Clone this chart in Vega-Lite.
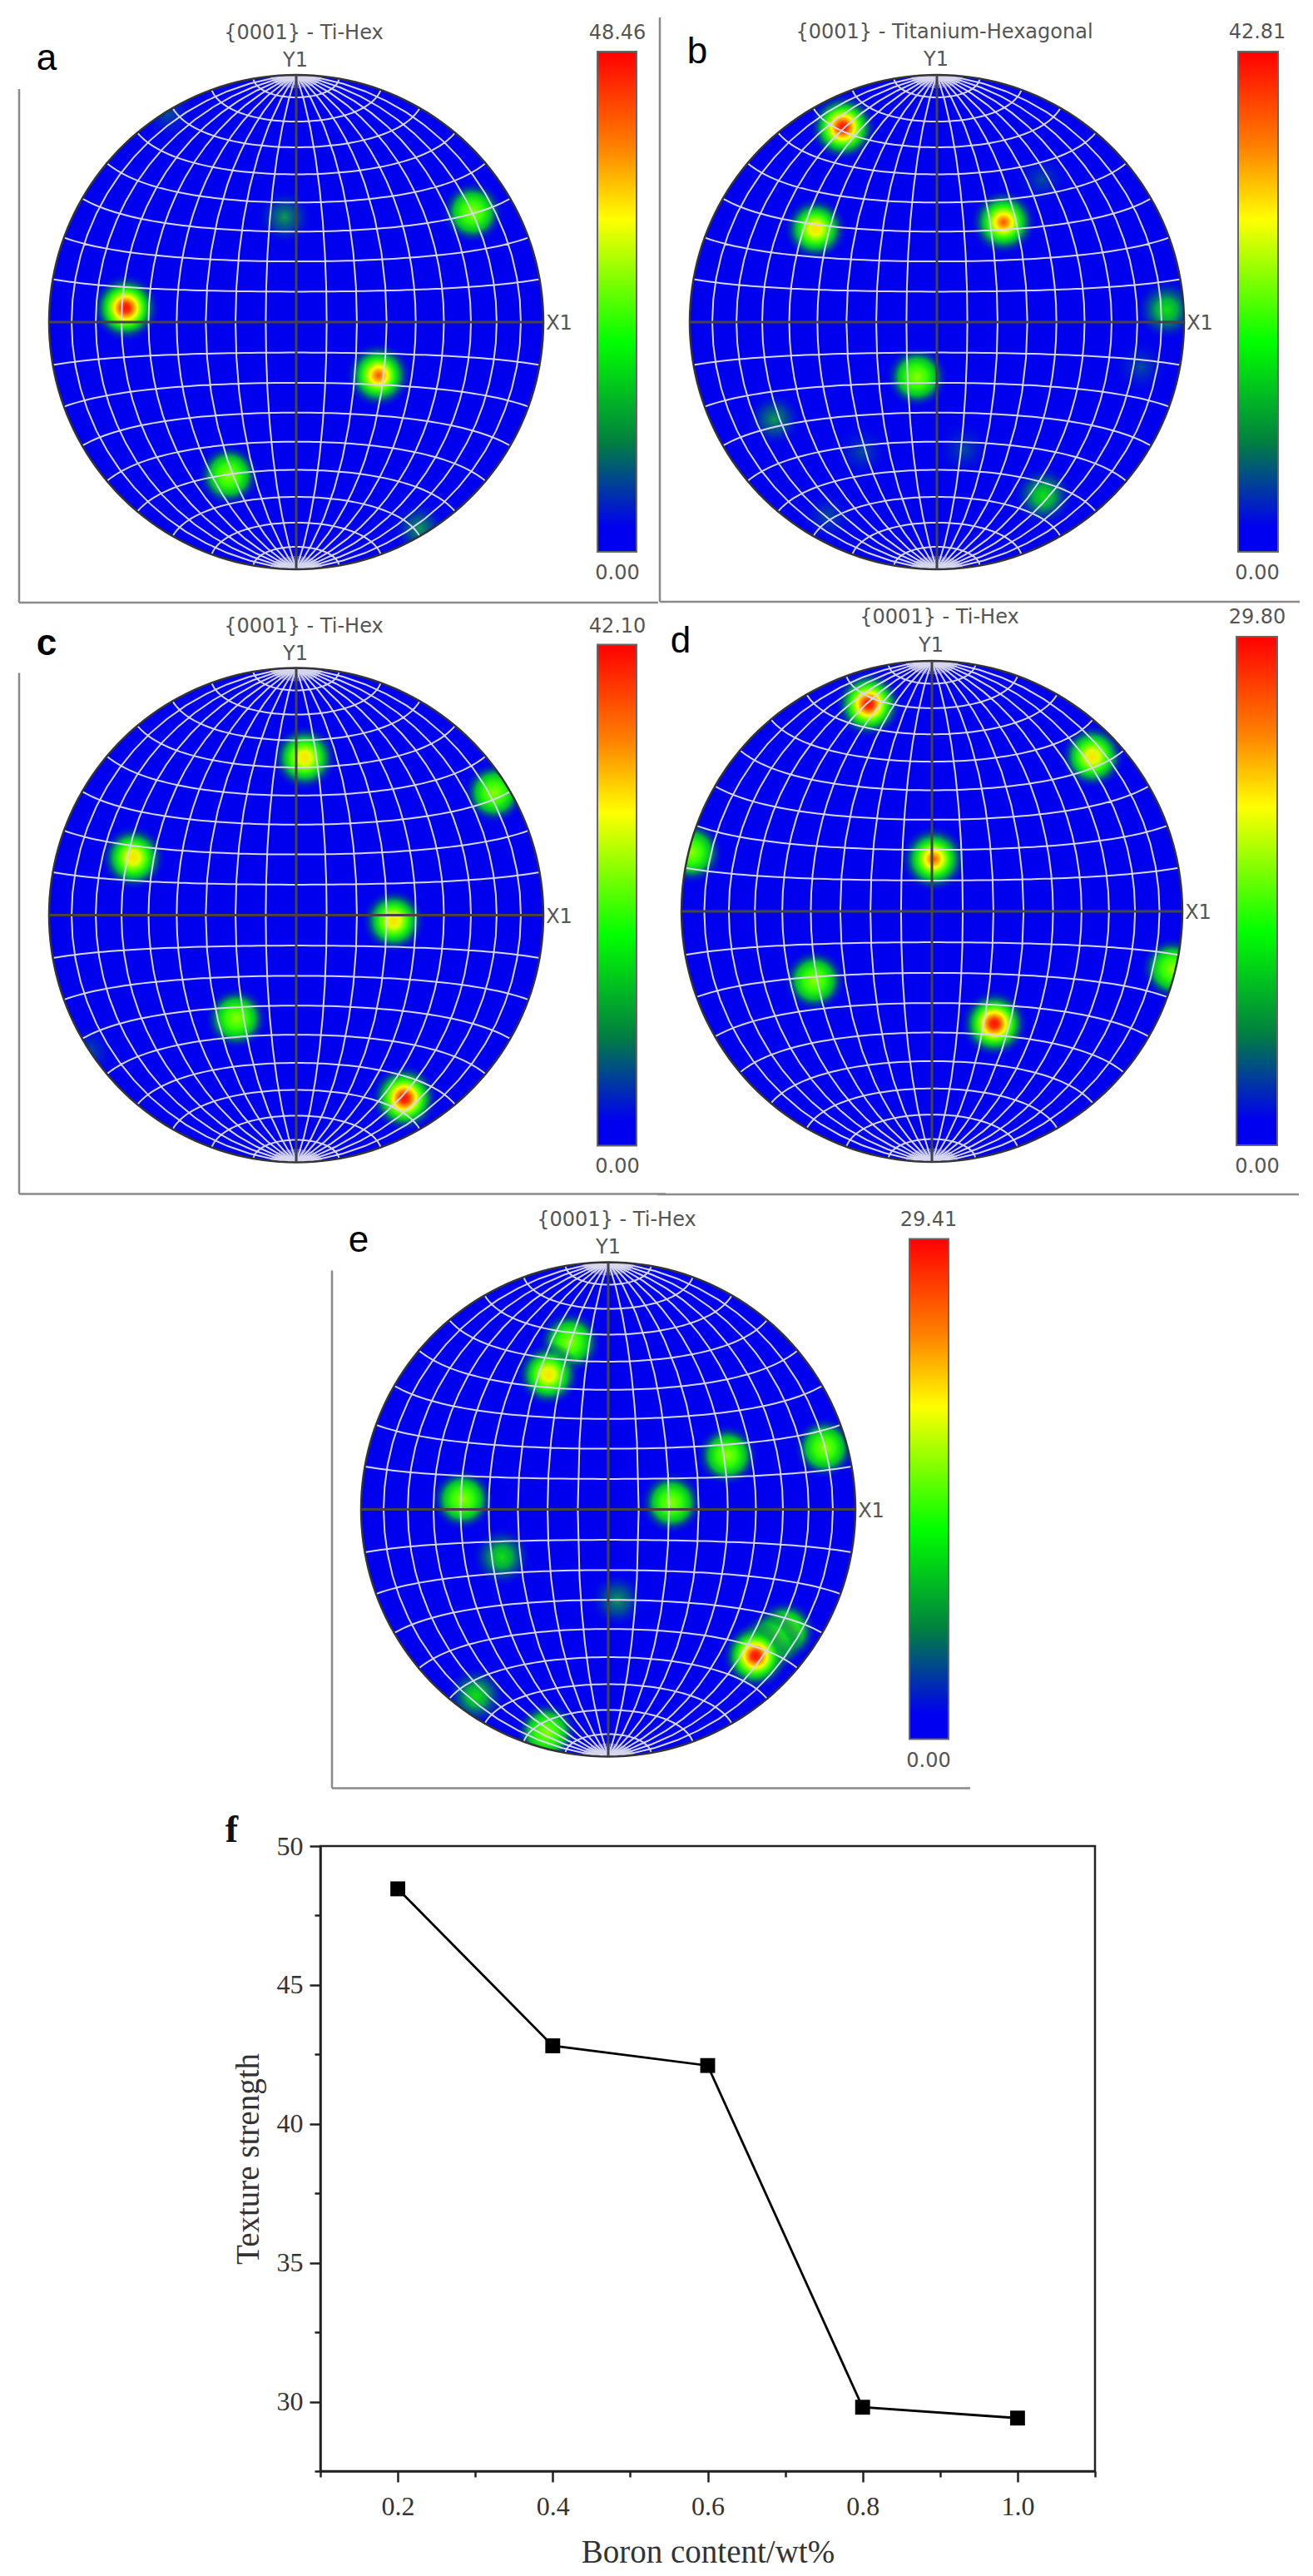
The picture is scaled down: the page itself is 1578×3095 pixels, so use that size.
{
"$schema":"https://vega.github.io/schema/vega-lite/v6.json",
"background":"white","padding":0,
"config":{"view":{"stroke":null}},
"params":[
{"name":"s1","value":{"gradient":"radial","stops":[{"offset":0,"color":"#ff1000"},{"offset":0.12,"color":"#ff3000"},{"offset":0.22,"color":"#ff9000"},{"offset":0.33,"color":"#ffff00"},{"offset":0.48,"color":"#40ff00"},{"offset":0.62,"color":"#00c030"},{"offset":0.78,"color":"rgba(0,100,110,0.55)"},{"offset":1,"color":"rgba(0,0,238,0)"}]}},
{"name":"s2","value":{"gradient":"radial","stops":[{"offset":0,"color":"#ff5000"},{"offset":0.13,"color":"#ffa000"},{"offset":0.25,"color":"#ffff00"},{"offset":0.44,"color":"#30ff00"},{"offset":0.6,"color":"#00b840"},{"offset":0.77,"color":"rgba(0,100,110,0.55)"},{"offset":1,"color":"rgba(0,0,238,0)"}]}},
{"name":"s3","value":{"gradient":"radial","stops":[{"offset":0,"color":"#ffe000"},{"offset":0.2,"color":"#e0ff00"},{"offset":0.42,"color":"#30ff00"},{"offset":0.6,"color":"#00b840"},{"offset":0.77,"color":"rgba(0,100,110,0.55)"},{"offset":1,"color":"rgba(0,0,238,0)"}]}},
{"name":"s4","value":{"gradient":"radial","stops":[{"offset":0,"color":"#90ff00"},{"offset":0.32,"color":"#30ff00"},{"offset":0.58,"color":"#00c030"},{"offset":0.76,"color":"rgba(0,100,110,0.55)"},{"offset":1,"color":"rgba(0,0,238,0)"}]}},
{"name":"s5","value":{"gradient":"radial","stops":[{"offset":0,"color":"#10e010"},{"offset":0.32,"color":"#00b040"},{"offset":0.66,"color":"rgba(0,90,130,0.55)"},{"offset":1,"color":"rgba(0,0,238,0)"}]}},
{"name":"s6","value":{"gradient":"radial","stops":[{"offset":0,"color":"#0f9a50"},{"offset":0.42,"color":"rgba(0,100,120,0.7)"},{"offset":0.85,"color":"rgba(0,20,220,0.1)"},{"offset":1,"color":"rgba(0,0,238,0)"}]}},
{"name":"s7","value":{"gradient":"radial","stops":[{"offset":0,"color":"rgba(0,90,140,0.85)"},{"offset":0.85,"color":"rgba(0,20,220,0.1)"},{"offset":1,"color":"rgba(0,0,238,0)"}]}},
{"name":"cbar","value":{"gradient":"linear","x1":0,"y1":0,"x2":0,"y2":1,"stops":[{"offset":0,"color":"#ff0000"},{"offset":0.19,"color":"#ff8000"},{"offset":0.335,"color":"#ffff00"},{"offset":0.58,"color":"#00ff00"},{"offset":0.78,"color":"#008040"},{"offset":0.95,"color":"#0000f0"},{"offset":1,"color":"#0000f0"}]}}
],
"datasets":{
"a_spots":[{"x":-205,"y":17,"peak":1},{"x":99,"y":-64,"peak":0.85},{"x":-81,"y":-184,"peak":0.5},{"x":212,"y":132,"peak":0.5},{"x":-14,"y":126,"peak":0.25},{"x":-154,"y":250,"peak":0.12},{"x":148,"y":-248,"peak":0.2}],
"b_spots":[{"x":-113,"y":234,"peak":1},{"x":80,"y":120,"peak":0.85},{"x":-146,"y":112,"peak":0.6},{"x":-24,"y":-66,"peak":0.45},{"x":276,"y":15,"peak":0.4},{"x":128,"y":-209,"peak":0.35},{"x":-195,"y":-117,"peak":0.2},{"x":245,"y":-54,"peak":0.15},{"x":32,"y":-153,"peak":0.1},{"x":-131,"y":-234,"peak":0.1},{"x":126,"y":171,"peak":0.08},{"x":-90,"y":-156,"peak":0.08}],
"c_spots":[{"x":130,"y":-220,"peak":1},{"x":10,"y":189,"peak":0.75},{"x":-196,"y":69,"peak":0.7},{"x":117,"y":-7,"peak":0.6},{"x":-72,"y":-124,"peak":0.5},{"x":238,"y":147,"peak":0.45},{"x":-249,"y":-164,"peak":0.12}],
"d_spots":[{"x":-76,"y":249,"peak":1},{"x":75,"y":-135,"peak":1},{"x":2,"y":63,"peak":0.85},{"x":193,"y":186,"peak":0.7},{"x":-141,"y":-83,"peak":0.5},{"x":-289,"y":71,"peak":0.55},{"x":289,"y":-69,"peak":0.55}],
"e_spots":[{"x":213,"y":-146,"peak":0.5},{"x":195,"y":-160,"peak":0.55},{"x":177,"y":-176,"peak":1},{"x":-46,"y":201,"peak":0.55},{"x":-72,"y":162,"peak":0.6},{"x":-175,"y":12,"peak":0.5},{"x":76,"y":8,"peak":0.5},{"x":143,"y":65,"peak":0.45},{"x":260,"y":74,"peak":0.45},{"x":-128,"y":-57,"peak":0.3},{"x":11,"y":-109,"peak":0.25},{"x":-159,"y":-224,"peak":0.3},{"x":-74,"y":-268,"peak":0.45}],
"a_over":[{"kind":"frame","x":-333,"y":280,"x2":-333,"y2":-337},{"kind":"frame","x":-333,"y":-337,"x2":435,"y2":-337},{"kind":"cross","x":-297,"y":0,"x2":297,"y2":0},{"kind":"cross","x":0,"y":-297,"x2":0,"y2":297},{"kind":"bar","x":362,"y":325,"x2":409,"y2":-276},{"kind":"text","x":9,"y":347,"label":"{0001} - Ti-Hex"},{"kind":"text","x":-1,"y":314,"label":"Y1"},{"kind":"text","x":316,"y":-2,"label":"X1"},{"kind":"text","x":386,"y":347,"label":"48.46"},{"kind":"text","x":386,"y":-302,"label":"0.00"},{"kind":"letter","x":-300,"y":316,"label":"a"}],
"b_over":[{"kind":"frame","x":-333,"y":366,"x2":-333,"y2":-336},{"kind":"frame","x":-333,"y":-336,"x2":436,"y2":-336},{"kind":"cross","x":-297,"y":0,"x2":297,"y2":0},{"kind":"cross","x":0,"y":-297,"x2":0,"y2":297},{"kind":"bar","x":362,"y":325,"x2":410,"y2":-276},{"kind":"text","x":9,"y":348,"label":"{0001} - Titanium-Hexagonal"},{"kind":"text","x":-1,"y":315,"label":"Y1"},{"kind":"text","x":316,"y":-2,"label":"X1"},{"kind":"text","x":385,"y":348,"label":"42.81"},{"kind":"text","x":385,"y":-302,"label":"0.00"},{"kind":"letter","x":-288,"y":324,"label":"b"}],
"c_over":[{"kind":"frame","x":-333,"y":291,"x2":-333,"y2":-335},{"kind":"frame","x":-333,"y":-335,"x2":444,"y2":-335},{"kind":"cross","x":-297,"y":0,"x2":297,"y2":0},{"kind":"cross","x":0,"y":-297,"x2":0,"y2":297},{"kind":"bar","x":362,"y":325,"x2":409,"y2":-277},{"kind":"text","x":9,"y":347,"label":"{0001} - Ti-Hex"},{"kind":"text","x":-1,"y":314,"label":"Y1"},{"kind":"text","x":316,"y":-2,"label":"X1"},{"kind":"text","x":386,"y":347,"label":"42.10"},{"kind":"text","x":386,"y":-302,"label":"0.00"},{"kind":"letter","x":-300,"y":326,"label":"c"}],
"d_over":[{"kind":"frame","x":-330,"y":-340,"x2":441,"y2":-340},{"kind":"cross","x":-301,"y":0,"x2":301,"y2":0},{"kind":"cross","x":0,"y":-301,"x2":0,"y2":301},{"kind":"bar","x":366,"y":330,"x2":415,"y2":-281},{"kind":"text","x":9,"y":353,"label":"{0001} - Ti-Hex"},{"kind":"text","x":-1,"y":319,"label":"Y1"},{"kind":"text","x":320,"y":-2,"label":"X1"},{"kind":"text","x":391,"y":353,"label":"29.80"},{"kind":"text","x":391,"y":-307,"label":"0.00"},{"kind":"letter","x":-302,"y":324,"label":"d"}],
"e_over":[{"kind":"frame","x":-332,"y":287,"x2":-332,"y2":-335},{"kind":"frame","x":-332,"y":-335,"x2":435,"y2":-335},{"kind":"cross","x":-297,"y":0,"x2":297,"y2":0},{"kind":"cross","x":0,"y":-297,"x2":0,"y2":297},{"kind":"bar","x":362,"y":325,"x2":409,"y2":-276},{"kind":"text","x":10,"y":348,"label":"{0001} - Ti-Hex"},{"kind":"text","x":0,"y":315,"label":"Y1"},{"kind":"text","x":316,"y":-2,"label":"X1"},{"kind":"text","x":385,"y":348,"label":"29.41"},{"kind":"text","x":385,"y":-302,"label":"0.00"},{"kind":"letter","x":-300,"y":323,"label":"e"}],
"f_vals":[{"boron":0.2,"strength":48.46},{"boron":0.4,"strength":42.81},{"boron":0.6,"strength":42.1},{"boron":0.8,"strength":29.8},{"boron":1.0,"strength":29.41}]
},
"columns":2,"bounds":"flush","spacing":0,
"concat":[
{"width":385,"height":774,
"projection":{"type":"azimuthalEqualArea","scale":210,"translate":[356,387],"clipAngle":90,"precision":0.5},
"layer":[
{"data":{"sphere":true},"mark":{"type":"geoshape","clip":false,"fill":"#0000ee"}},
{"encoding":{"x":{"field":"x","type":"quantitative","scale":{"domain":[-356,29],"nice":false,"zero":false},"axis":null},"y":{"field":"y","type":"quantitative","scale":{"domain":[-387,387],"nice":false,"zero":false},"axis":null}},
"layer":[
{"data":{"name":"a_spots"},"mark":{"type":"circle","opacity":1,"fill":{"expr":"datum.peak>=0.95?s1:datum.peak>=0.8?s2:datum.peak>=0.6?s3:datum.peak>=0.45?s4:datum.peak>=0.3?s5:datum.peak>=0.18?s6:s7"}},"encoding":{"size":{"field":"peak","type":"quantitative","scale":{"domain":[0,1],"range":[4800,7000]},"legend":null}}},
{"data":{"values":[{"x":0,"y":0}]},"mark":{"type":"arc","innerRadius":297,"outerRadius":335,"theta":0,"theta2":6.2832,"fill":"white"}}
]},
{"data":{"graticule":{"step":[10,10],"extentMinor":[[-180,-89.99],[180,89.99]]}},"mark":{"type":"geoshape","clip":false,"filled":false,"stroke":"#d6d6ee","strokeWidth":2}},
{"data":{"graticule":{"step":[4,100],"extent":[[-90,84],[90,89.9]]}},"mark":{"type":"geoshape","clip":false,"filled":false,"stroke":"#d6d6ee","strokeWidth":0.7}},
{"data":{"graticule":{"step":[4,100],"extent":[[-90,-89.9],[90,-84]]}},"mark":{"type":"geoshape","clip":false,"filled":false,"stroke":"#d6d6ee","strokeWidth":0.7}},
{"data":{"sphere":true},"mark":{"type":"geoshape","clip":false,"filled":false,"stroke":"#333333","strokeWidth":2.5}},
{"data":{"name":"a_over"},
"encoding":{"x":{"field":"x","type":"quantitative","scale":{"domain":[-356,29],"nice":false,"zero":false},"axis":null},"y":{"field":"y","type":"quantitative","scale":{"domain":[-387,387],"nice":false,"zero":false},"axis":null}},
"layer":[
{"transform":[{"filter":"datum.kind==='frame'"}],"mark":{"type":"rule","stroke":"#8a8a8a","strokeWidth":2.5},"encoding":{"x2":{"field":"x2"},"y2":{"field":"y2"}}},
{"transform":[{"filter":"datum.kind==='cross'"}],"mark":{"type":"rule","stroke":"#444444","strokeWidth":3},"encoding":{"x2":{"field":"x2"},"y2":{"field":"y2"}}},
{"transform":[{"filter":"datum.kind==='bar'"}],"mark":{"type":"rect","fill":{"expr":"cbar"},"stroke":"#666666","strokeWidth":2},"encoding":{"x2":{"field":"x2"},"y2":{"field":"y2"}}},
{"transform":[{"filter":"datum.kind==='text'"}],"mark":{"type":"text","font":"DejaVu Sans","fontSize":24,"fill":"#555555"},"encoding":{"text":{"field":"label"}}},
{"transform":[{"filter":"datum.kind==='letter'"}],"mark":{"type":"text","font":"Liberation Sans","fontSize":44,"fill":"#000000"},"encoding":{"text":{"field":"label"}}}
]}
]},
{"width":931,"height":774,
"projection":{"type":"azimuthalEqualArea","scale":210,"translate":[741,387],"clipAngle":90,"precision":0.51},
"layer":[
{"data":{"sphere":true},"mark":{"type":"geoshape","clip":false,"fill":"#0000ee"}},
{"encoding":{"x":{"field":"x","type":"quantitative","scale":{"domain":[-741,190],"nice":false,"zero":false},"axis":null},"y":{"field":"y","type":"quantitative","scale":{"domain":[-387,387],"nice":false,"zero":false},"axis":null}},
"layer":[
{"data":{"name":"b_spots"},"mark":{"type":"circle","opacity":1,"fill":{"expr":"datum.peak>=0.95?s1:datum.peak>=0.8?s2:datum.peak>=0.6?s3:datum.peak>=0.45?s4:datum.peak>=0.3?s5:datum.peak>=0.18?s6:s7"}},"encoding":{"size":{"field":"peak","type":"quantitative","scale":{"domain":[0,1],"range":[4800,7000]},"legend":null}}},
{"data":{"values":[{"x":0,"y":0}]},"mark":{"type":"arc","innerRadius":297,"outerRadius":335,"theta":0,"theta2":6.2832,"fill":"white"}}
]},
{"data":{"graticule":{"step":[10,10],"extentMinor":[[-180,-89.99],[180,89.99]]}},"mark":{"type":"geoshape","clip":false,"filled":false,"stroke":"#d6d6ee","strokeWidth":2}},
{"data":{"graticule":{"step":[4,100],"extent":[[-90,84],[90,89.9]]}},"mark":{"type":"geoshape","clip":false,"filled":false,"stroke":"#d6d6ee","strokeWidth":0.7}},
{"data":{"graticule":{"step":[4,100],"extent":[[-90,-89.9],[90,-84]]}},"mark":{"type":"geoshape","clip":false,"filled":false,"stroke":"#d6d6ee","strokeWidth":0.7}},
{"data":{"sphere":true},"mark":{"type":"geoshape","clip":false,"filled":false,"stroke":"#333333","strokeWidth":2.5}},
{"data":{"name":"b_over"},
"encoding":{"x":{"field":"x","type":"quantitative","scale":{"domain":[-741,190],"nice":false,"zero":false},"axis":null},"y":{"field":"y","type":"quantitative","scale":{"domain":[-387,387],"nice":false,"zero":false},"axis":null}},
"layer":[
{"transform":[{"filter":"datum.kind==='frame'"}],"mark":{"type":"rule","stroke":"#8a8a8a","strokeWidth":2.5},"encoding":{"x2":{"field":"x2"},"y2":{"field":"y2"}}},
{"transform":[{"filter":"datum.kind==='cross'"}],"mark":{"type":"rule","stroke":"#444444","strokeWidth":3},"encoding":{"x2":{"field":"x2"},"y2":{"field":"y2"}}},
{"transform":[{"filter":"datum.kind==='bar'"}],"mark":{"type":"rect","fill":{"expr":"cbar"},"stroke":"#666666","strokeWidth":2},"encoding":{"x2":{"field":"x2"},"y2":{"field":"y2"}}},
{"transform":[{"filter":"datum.kind==='text'"}],"mark":{"type":"text","font":"DejaVu Sans","fontSize":24,"fill":"#555555"},"encoding":{"text":{"field":"label"}}},
{"transform":[{"filter":"datum.kind==='letter'"}],"mark":{"type":"text","font":"Liberation Sans","fontSize":44,"fill":"#000000"},"encoding":{"text":{"field":"label"}}}
]}
]},
{"width":385,"height":651,
"projection":{"type":"azimuthalEqualArea","scale":210,"translate":[356,325.5],"clipAngle":90,"precision":0.52},
"layer":[
{"data":{"sphere":true},"mark":{"type":"geoshape","clip":false,"fill":"#0000ee"}},
{"encoding":{"x":{"field":"x","type":"quantitative","scale":{"domain":[-356,29],"nice":false,"zero":false},"axis":null},"y":{"field":"y","type":"quantitative","scale":{"domain":[-325.5,325.5],"nice":false,"zero":false},"axis":null}},
"layer":[
{"data":{"name":"c_spots"},"mark":{"type":"circle","opacity":1,"fill":{"expr":"datum.peak>=0.95?s1:datum.peak>=0.8?s2:datum.peak>=0.6?s3:datum.peak>=0.45?s4:datum.peak>=0.3?s5:datum.peak>=0.18?s6:s7"}},"encoding":{"size":{"field":"peak","type":"quantitative","scale":{"domain":[0,1],"range":[4800,7000]},"legend":null}}},
{"data":{"values":[{"x":0,"y":0}]},"mark":{"type":"arc","innerRadius":297,"outerRadius":335,"theta":0,"theta2":6.2832,"fill":"white"}}
]},
{"data":{"graticule":{"step":[10,10],"extentMinor":[[-180,-89.99],[180,89.99]]}},"mark":{"type":"geoshape","clip":false,"filled":false,"stroke":"#d6d6ee","strokeWidth":2}},
{"data":{"graticule":{"step":[4,100],"extent":[[-90,84],[90,89.9]]}},"mark":{"type":"geoshape","clip":false,"filled":false,"stroke":"#d6d6ee","strokeWidth":0.7}},
{"data":{"graticule":{"step":[4,100],"extent":[[-90,-89.9],[90,-84]]}},"mark":{"type":"geoshape","clip":false,"filled":false,"stroke":"#d6d6ee","strokeWidth":0.7}},
{"data":{"sphere":true},"mark":{"type":"geoshape","clip":false,"filled":false,"stroke":"#333333","strokeWidth":2.5}},
{"data":{"name":"c_over"},
"encoding":{"x":{"field":"x","type":"quantitative","scale":{"domain":[-356,29],"nice":false,"zero":false},"axis":null},"y":{"field":"y","type":"quantitative","scale":{"domain":[-325.5,325.5],"nice":false,"zero":false},"axis":null}},
"layer":[
{"transform":[{"filter":"datum.kind==='frame'"}],"mark":{"type":"rule","stroke":"#8a8a8a","strokeWidth":2.5},"encoding":{"x2":{"field":"x2"},"y2":{"field":"y2"}}},
{"transform":[{"filter":"datum.kind==='cross'"}],"mark":{"type":"rule","stroke":"#444444","strokeWidth":3},"encoding":{"x2":{"field":"x2"},"y2":{"field":"y2"}}},
{"transform":[{"filter":"datum.kind==='bar'"}],"mark":{"type":"rect","fill":{"expr":"cbar"},"stroke":"#666666","strokeWidth":2},"encoding":{"x2":{"field":"x2"},"y2":{"field":"y2"}}},
{"transform":[{"filter":"datum.kind==='text'"}],"mark":{"type":"text","font":"DejaVu Sans","fontSize":24,"fill":"#555555"},"encoding":{"text":{"field":"label"}}},
{"transform":[{"filter":"datum.kind==='letter'"}],"mark":{"type":"text","font":"Liberation Sans","fontSize":44,"fontWeight":"bold","fill":"#000000"},"encoding":{"text":{"field":"label"}}}
]}
]},
{"width":931,"height":642,
"projection":{"type":"azimuthalEqualArea","scale":212.8,"translate":[735,321],"clipAngle":90,"precision":0.53},
"layer":[
{"data":{"sphere":true},"mark":{"type":"geoshape","clip":false,"fill":"#0000ee"}},
{"encoding":{"x":{"field":"x","type":"quantitative","scale":{"domain":[-735,196],"nice":false,"zero":false},"axis":null},"y":{"field":"y","type":"quantitative","scale":{"domain":[-321,321],"nice":false,"zero":false},"axis":null}},
"layer":[
{"data":{"name":"d_spots"},"mark":{"type":"circle","opacity":1,"fill":{"expr":"datum.peak>=0.95?s1:datum.peak>=0.8?s2:datum.peak>=0.6?s3:datum.peak>=0.45?s4:datum.peak>=0.3?s5:datum.peak>=0.18?s6:s7"}},"encoding":{"size":{"field":"peak","type":"quantitative","scale":{"domain":[0,1],"range":[4800,7000]},"legend":null}}},
{"data":{"values":[{"x":0,"y":0}]},"mark":{"type":"arc","innerRadius":301,"outerRadius":339,"theta":0,"theta2":6.2832,"fill":"white"}}
]},
{"data":{"graticule":{"step":[10,10],"extentMinor":[[-180,-89.99],[180,89.99]]}},"mark":{"type":"geoshape","clip":false,"filled":false,"stroke":"#d6d6ee","strokeWidth":2}},
{"data":{"graticule":{"step":[4,100],"extent":[[-90,84],[90,89.9]]}},"mark":{"type":"geoshape","clip":false,"filled":false,"stroke":"#d6d6ee","strokeWidth":0.7}},
{"data":{"graticule":{"step":[4,100],"extent":[[-90,-89.9],[90,-84]]}},"mark":{"type":"geoshape","clip":false,"filled":false,"stroke":"#d6d6ee","strokeWidth":0.7}},
{"data":{"sphere":true},"mark":{"type":"geoshape","clip":false,"filled":false,"stroke":"#333333","strokeWidth":2.5}},
{"data":{"name":"d_over"},
"encoding":{"x":{"field":"x","type":"quantitative","scale":{"domain":[-735,196],"nice":false,"zero":false},"axis":null},"y":{"field":"y","type":"quantitative","scale":{"domain":[-321,321],"nice":false,"zero":false},"axis":null}},
"layer":[
{"transform":[{"filter":"datum.kind==='frame'"}],"mark":{"type":"rule","stroke":"#8a8a8a","strokeWidth":2.5},"encoding":{"x2":{"field":"x2"},"y2":{"field":"y2"}}},
{"transform":[{"filter":"datum.kind==='cross'"}],"mark":{"type":"rule","stroke":"#444444","strokeWidth":3},"encoding":{"x2":{"field":"x2"},"y2":{"field":"y2"}}},
{"transform":[{"filter":"datum.kind==='bar'"}],"mark":{"type":"rect","fill":{"expr":"cbar"},"stroke":"#666666","strokeWidth":2},"encoding":{"x2":{"field":"x2"},"y2":{"field":"y2"}}},
{"transform":[{"filter":"datum.kind==='text'"}],"mark":{"type":"text","font":"DejaVu Sans","fontSize":24,"fill":"#555555"},"encoding":{"text":{"field":"label"}}},
{"transform":[{"filter":"datum.kind==='letter'"}],"mark":{"type":"text","font":"Liberation Sans","fontSize":44,"fill":"#000000"},"encoding":{"text":{"field":"label"}}}
]}
]},
{"width":385,"height":777,
"projection":{"type":"azimuthalEqualArea","scale":210,"translate":[731,388.5],"clipAngle":90,"precision":0.54},
"layer":[
{"data":{"sphere":true},"mark":{"type":"geoshape","clip":false,"fill":"#0000ee"}},
{"encoding":{"x":{"field":"x","type":"quantitative","scale":{"domain":[-731,-346],"nice":false,"zero":false},"axis":null},"y":{"field":"y","type":"quantitative","scale":{"domain":[-388.5,388.5],"nice":false,"zero":false},"axis":null}},
"layer":[
{"data":{"name":"e_spots"},"mark":{"type":"circle","opacity":1,"fill":{"expr":"datum.peak>=0.95?s1:datum.peak>=0.8?s2:datum.peak>=0.6?s3:datum.peak>=0.45?s4:datum.peak>=0.3?s5:datum.peak>=0.18?s6:s7"}},"encoding":{"size":{"field":"peak","type":"quantitative","scale":{"domain":[0,1],"range":[4800,7000]},"legend":null}}},
{"data":{"values":[{"x":0,"y":0}]},"mark":{"type":"arc","innerRadius":297,"outerRadius":335,"theta":0,"theta2":6.2832,"fill":"white"}}
]},
{"data":{"graticule":{"step":[10,10],"extentMinor":[[-180,-89.99],[180,89.99]]}},"mark":{"type":"geoshape","clip":false,"filled":false,"stroke":"#d6d6ee","strokeWidth":2}},
{"data":{"graticule":{"step":[4,100],"extent":[[-90,84],[90,89.9]]}},"mark":{"type":"geoshape","clip":false,"filled":false,"stroke":"#d6d6ee","strokeWidth":0.7}},
{"data":{"graticule":{"step":[4,100],"extent":[[-90,-89.9],[90,-84]]}},"mark":{"type":"geoshape","clip":false,"filled":false,"stroke":"#d6d6ee","strokeWidth":0.7}},
{"data":{"sphere":true},"mark":{"type":"geoshape","clip":false,"filled":false,"stroke":"#333333","strokeWidth":2.5}},
{"data":{"name":"e_over"},
"encoding":{"x":{"field":"x","type":"quantitative","scale":{"domain":[-731,-346],"nice":false,"zero":false},"axis":null},"y":{"field":"y","type":"quantitative","scale":{"domain":[-388.5,388.5],"nice":false,"zero":false},"axis":null}},
"layer":[
{"transform":[{"filter":"datum.kind==='frame'"}],"mark":{"type":"rule","stroke":"#8a8a8a","strokeWidth":2.5},"encoding":{"x2":{"field":"x2"},"y2":{"field":"y2"}}},
{"transform":[{"filter":"datum.kind==='cross'"}],"mark":{"type":"rule","stroke":"#444444","strokeWidth":3},"encoding":{"x2":{"field":"x2"},"y2":{"field":"y2"}}},
{"transform":[{"filter":"datum.kind==='bar'"}],"mark":{"type":"rect","fill":{"expr":"cbar"},"stroke":"#666666","strokeWidth":2},"encoding":{"x2":{"field":"x2"},"y2":{"field":"y2"}}},
{"transform":[{"filter":"datum.kind==='text'"}],"mark":{"type":"text","font":"DejaVu Sans","fontSize":24,"fill":"#555555"},"encoding":{"text":{"field":"label"}}},
{"transform":[{"filter":"datum.kind==='letter'"}],"mark":{"type":"text","font":"Liberation Sans","fontSize":44,"fill":"#000000"},"encoding":{"text":{"field":"label"}}}
]}
]},
{"width":931,"height":793,"data":{"values":[{"v":0}]},"mark":{"type":"point","opacity":0}},
{"width":385,"height":1,"data":{"values":[{"v":0}]},"mark":{"type":"point","opacity":0}},
{"width":931,"height":751,
"view":{"stroke":"#222222","strokeWidth":2.5},
"encoding":{
"x":{"field":"boron","type":"quantitative","scale":{"domain":[0.1,1.1],"nice":false,"zero":false},
"axis":{"title":"Boron content/wt%","grid":false,"values":[0.1,0.2,0.3,0.4,0.5,0.6,0.7,0.8,0.9,1.0,1.1],"labelExpr":"round(datum.value*10)%2==0?format(datum.value,'.1f'):''","tickSize":{"expr":"round(datum.value*10)%2==0?13:7"},"tickColor":"#222222","tickWidth":2.5,"domainColor":"#222222","domainWidth":2.5,"labelFont":"Liberation Serif","labelFontSize":32,"labelColor":"#333333","labelPadding":14,"labelFlush":false,"titleFont":"Liberation Serif","titleFontSize":39,"titleFontWeight":"normal","titleColor":"#333333","titlePadding":20}},
"y":{"field":"strength","type":"quantitative","scale":{"domain":[27.5,50],"nice":false,"zero":false},
"axis":{"title":"Texture strength","grid":false,"values":[27.5,30,32.5,35,37.5,40,42.5,45,47.5,50],"labelExpr":"datum.value%5==0?format(datum.value,'d'):''","tickSize":{"expr":"datum.value%5==0?13:7"},"tickColor":"#222222","tickWidth":2.5,"domainColor":"#222222","domainWidth":2.5,"labelFont":"Liberation Serif","labelFontSize":32,"labelColor":"#333333","labelPadding":8,"labelFlush":false,"titleFont":"Liberation Serif","titleFontSize":39,"titleFontWeight":"normal","titleColor":"#333333","titlePadding":14}}
},
"layer":[
{"data":{"name":"f_vals"},"mark":{"type":"line","color":"#000000","strokeWidth":2.8}},
{"data":{"name":"f_vals"},"mark":{"type":"point","shape":"square","filled":true,"opacity":1,"size":320,"color":"#000000"}},
{"data":{"values":[{"boron":-0.0146,"strength":50.57,"label":"f"}]},"mark":{"type":"text","font":"Liberation Serif","fontSize":46,"fontWeight":"bold","fill":"#111111"},"encoding":{"text":{"field":"label"}}}
]}
]
}
